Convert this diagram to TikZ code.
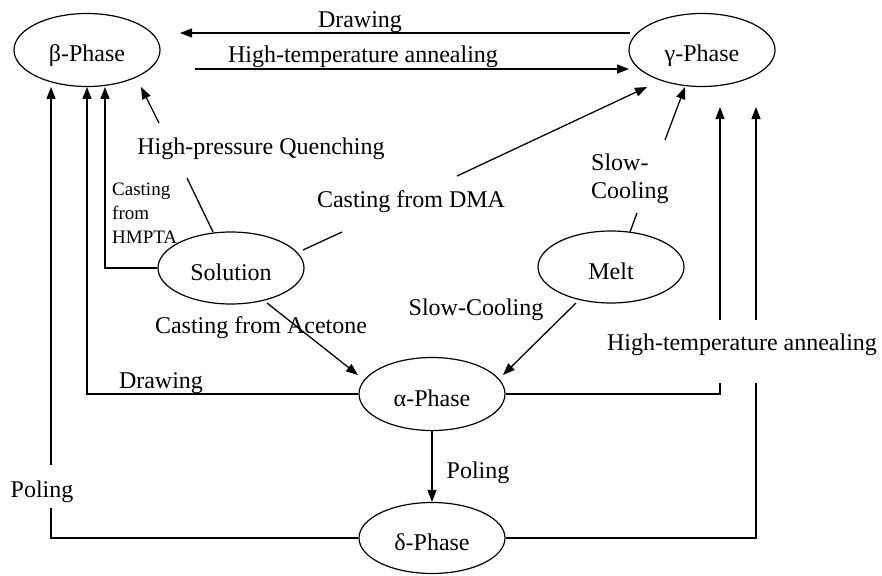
\documentclass[tikz,border=0pt]{standalone}
\usepackage{fontspec}
\setmainfont{Liberation Serif}
\usetikzlibrary{shapes.geometric,arrows.meta,calc}
\begin{document}
\begin{tikzpicture}[x=1pt,y=-1pt,
  phase/.style={draw,ellipse,line width=1.2pt,minimum width=146pt,minimum height=73pt,inner sep=0pt,text height=26pt,text depth=2pt,font=\fontsize{24}{28}\selectfont},
  conn/.style={line width=1.3pt},
  arr/.style={conn,-{Triangle[length=12pt,width=9pt]}},
  lbl/.style={inner sep=0pt,font=\fontsize{24}{28}\selectfont},
  small/.style={inner sep=0pt,font=\fontsize{19}{24}\selectfont,align=left}]
\useasboundingbox (0,0) rectangle (882,575);
% phases
\node[phase] (beta) at (87,50) {β-Phase};
\node[phase] (gamma) at (702,50) {γ-Phase};
\node[phase,minimum height=72pt] (sol) at (231,268) {Solution};
\node[phase,minimum height=72pt] (melt) at (611,267) {Melt};
\node[phase] (alpha) at (432,394) {α-Phase};
\node[phase,minimum height=71pt] (delta) at (432,538) {δ-Phase};
% labels
\node[lbl,anchor=base] (tDraw) at (360,28) {Drawing};
\node[lbl,anchor=base] (tHTA) at (363,63) {High-temperature annealing};
\node[lbl,anchor=base] (tHPQ) at (261,154) {High-pressure Quenching};
\node[small,anchor=north west] (tHMPTA) at (112,183) {Casting\\from\\HMPTA};
\node[lbl,anchor=base] (tDMA) at (411,207) {Casting from DMA};
\node[lbl,anchor=north west,align=left] (tSlow1) at (591,154) {Slow-\\Cooling};
\node[lbl,anchor=base] (tSlow2) at (476,315) {Slow-Cooling};
\node[lbl,anchor=base] (tAce) at (261,333) {Casting from Acetone};
\node[lbl,anchor=base] (tDraw2) at (161,388) {Drawing};
\node[lbl,anchor=base] (tHTA2) at (742,350) {High-temperature annealing};
\node[lbl,anchor=base] (tPol) at (478,478) {Poling};
\node[lbl,anchor=base] (tPol2) at (42,497) {Poling};
% coordinates
\coordinate (gDrawS) at (630,33);
\coordinate (bDrawT) at (180,33);
\coordinate (bHTAS) at (195,69);
\coordinate (gHTAT) at (629,69);
\coordinate (bT1) at (51,87);
\coordinate (bT2) at (87,87);
\coordinate (bT3) at (105,87);
\coordinate (bT4) at (141,87);
\coordinate (gT1) at (647,87);
\coordinate (gT2) at (685,87);
\coordinate (gT3) at (720,107);
\coordinate (gT4) at (756,107);
\coordinate (solA) at (213,232);
\coordinate (hpqA) at (187,178);
\coordinate (hpqB) at (159,123);
\coordinate (solB) at (303,250);
\coordinate (dmaA) at (342,232);
\coordinate (dmaB) at (457,176);
\coordinate (meltA) at (630,232);
\coordinate (scA) at (637,213);
\coordinate (scB) at (665,140);
\coordinate (solC) at (267,303);
\coordinate (aT1) at (358,375);
\coordinate (meltB) at (576,303);
\coordinate (aT2) at (503,375);
\coordinate (plA) at (51,508);
\coordinate (plB) at (51,465);
\coordinate (htA) at (720,383);
\coordinate (htB) at (720,320);
\coordinate (htC) at (756,383);
\coordinate (htD) at (756,320);
% connectors
\draw[arr] (gDrawS) -- (bDrawT);
\draw[arr] (bHTAS) -- (gHTAT);
\draw[conn] (solA) -- (hpqA);
\draw[arr] (hpqB) -- (bT4);
\draw[arr] (sol.west) -| (bT3);
\draw[arr] (alpha.west) -| (bT2);
\draw[conn] (delta.west) -| (plA);
\draw[arr] (plB) -- (bT1);
\draw[conn] (solB) -- (dmaA);
\draw[arr] (dmaB) -- (gT1);
\draw[conn] (meltA) -- (scA);
\draw[arr] (scB) -- (gT2);
\draw[arr] (solC) -- (aT1);
\draw[arr] (meltB) -- (aT2);
\draw[conn] (alpha.east) -| (htA);
\draw[arr] (htB) -- (gT3);
\draw[conn] (delta.east) -| (htC);
\draw[arr] (htD) -- (gT4);
\draw[arr] (alpha.south) -- (delta.north);
\end{tikzpicture}
\end{document}
